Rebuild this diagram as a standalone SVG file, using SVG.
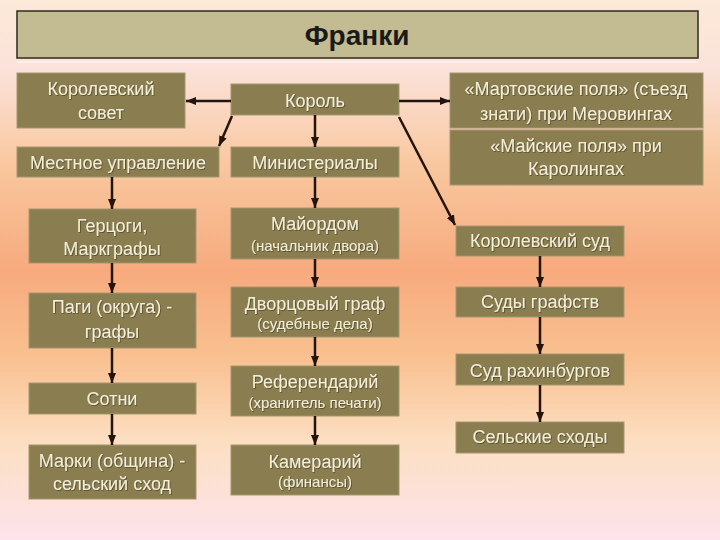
<svg xmlns="http://www.w3.org/2000/svg" width="720" height="540" viewBox="0 0 720 540">
<defs>
<linearGradient id="bg" x1="0" y1="0" x2="0" y2="1">
<stop offset="0" stop-color="#fce9d8"/>
<stop offset="0.13" stop-color="#fbe2da"/>
<stop offset="0.3" stop-color="#f9c8a0"/>
<stop offset="0.5" stop-color="#f7aa7e"/>
<stop offset="0.66" stop-color="#f9c090"/>
<stop offset="0.82" stop-color="#fcdfc2"/>
<stop offset="1" stop-color="#fde3ec"/>
</linearGradient>
<marker id="ah" markerUnits="userSpaceOnUse" markerWidth="10" markerHeight="10" viewBox="0 0 10 10" refX="10" refY="5" orient="auto">
<path d="M0,1 L10,5 L0,9 Z" fill="#24140c"/>
</marker>
<filter id="sh" x="-10%" y="-20%" width="120%" height="140%">
<feDropShadow dx="0.8" dy="0.8" stdDeviation="0.6" flood-color="#3a3018" flood-opacity="0.7"/>
</filter>
</defs>
<style>
.box{fill:#8a7d50;stroke:#a39870;stroke-width:1}
.t{font-family:"Liberation Sans","Open Sans",sans-serif;font-size:18px;fill:#f3eed8;text-anchor:middle;filter:url(#sh)}
.s{font-size:15px}
.title{font-family:"Liberation Sans","Open Sans",sans-serif;font-size:28px;font-weight:bold;fill:#1a1a1a;text-anchor:middle}
.c{stroke:#24140c;stroke-width:2.5;fill:none;marker-end:url(#ah)}
</style>
<rect width="720" height="540" fill="url(#bg)"/>
<g id="title">
<rect x="17" y="11" width="681" height="47" fill="#c3bc93" stroke="#2e2a1e" stroke-width="1.5"/>
<line x1="17" y1="62" x2="698" y2="62" stroke="#fff6ee" stroke-width="1.5" opacity="0.8"/>
<text class="title" x="357" y="45">Франки</text>
</g>
<g id="n-korsovet"><rect class="box" x="17" y="73" width="168" height="55"/><text class="t" x="101" y="95">Королевский</text><text class="t" x="101" y="119">совет</text></g>
<g id="n-korol"><rect class="box" x="231" y="84" width="168" height="31"/><text class="t" x="315" y="107">Король</text></g>
<g id="n-mart"><rect class="box" x="450" y="73" width="253" height="55"/><text class="t" x="576" y="95">«Мартовские поля» (съезд</text><text class="t" x="576" y="120">знати) при Меровингах</text></g>
<g id="n-mai"><rect class="box" x="450" y="130" width="253" height="55"/><text class="t" x="576" y="152">«Майские поля» при</text><text class="t" x="576" y="175">Каролингах</text></g>
<g id="n-mestnoe"><rect class="box" x="17" y="147" width="202" height="30"/><text class="t" x="118" y="169">Местное управление</text></g>
<g id="n-minist"><rect class="box" x="231" y="147" width="168" height="30"/><text class="t" x="315" y="169">Министериалы</text></g>
<g id="n-gercogi"><rect class="box" x="29" y="209" width="167" height="54"/><text class="t" x="112" y="232">Герцоги,</text><text class="t" x="112" y="255">Маркграфы</text></g>
<g id="n-maiordom"><rect class="box" x="231" y="208" width="168" height="51"/><text class="t" x="315" y="230">Майордом</text><text class="t s" x="315" y="251">(начальник двора)</text></g>
<g id="n-korsud"><rect class="box" x="456" y="226" width="168" height="30"/><text class="t" x="540" y="247">Королевский суд</text></g>
<g id="n-pagi"><rect class="box" x="29" y="293" width="167" height="55"/><text class="t" x="112" y="313">Паги (округа) -</text><text class="t" x="112" y="338">графы</text></g>
<g id="n-dvorc"><rect class="box" x="231" y="287" width="168" height="50"/><text class="t" x="315" y="310">Дворцовый граф</text><text class="t s" x="315" y="329">(судебные дела)</text></g>
<g id="n-sudy"><rect class="box" x="456" y="287" width="168" height="30"/><text class="t" x="540" y="308">Суды графств</text></g>
<g id="n-ref"><rect class="box" x="231" y="366" width="168" height="50"/><text class="t" x="315" y="388">Референдарий</text><text class="t s" x="315" y="408">(хранитель печати)</text></g>
<g id="n-rahin"><rect class="box" x="456" y="354" width="168" height="31"/><text class="t" x="540" y="377">Суд рахинбургов</text></g>
<g id="n-sotni"><rect class="box" x="29" y="383" width="167" height="31"/><text class="t" x="112" y="405">Сотни</text></g>
<g id="n-selskie"><rect class="box" x="456" y="422" width="168" height="31"/><text class="t" x="540" y="443">Сельские сходы</text></g>
<g id="n-marki"><rect class="box" x="29" y="445" width="167" height="54"/><text class="t" x="112" y="467">Марки (община) -</text><text class="t" x="112" y="490">сельский сход</text></g>
<g id="n-kamer"><rect class="box" x="231" y="445" width="168" height="50"/><text class="t" x="315" y="468">Камерарий</text><text class="t s" x="315" y="487">(финансы)</text></g>
<g id="connectors">
<line class="c" x1="231" y1="101" x2="186" y2="101"/>
<line class="c" x1="399" y1="101" x2="450" y2="101"/>
<line class="c" x1="232" y1="116" x2="219" y2="146"/>
<line class="c" x1="315" y1="115" x2="315" y2="147"/>
<line class="c" x1="399" y1="117" x2="455" y2="225"/>
<line class="c" x1="112" y1="177" x2="112" y2="209"/>
<line class="c" x1="112" y1="263" x2="112" y2="293"/>
<line class="c" x1="112" y1="348" x2="112" y2="383"/>
<line class="c" x1="112" y1="414" x2="112" y2="445"/>
<line class="c" x1="315" y1="177" x2="315" y2="208"/>
<line class="c" x1="315" y1="259" x2="315" y2="287"/>
<line class="c" x1="315" y1="337" x2="315" y2="366"/>
<line class="c" x1="315" y1="416" x2="315" y2="445"/>
<line class="c" x1="540" y1="256" x2="540" y2="287"/>
<line class="c" x1="540" y1="317" x2="540" y2="354"/>
<line class="c" x1="540" y1="385" x2="540" y2="422"/>
</g>
</svg>
